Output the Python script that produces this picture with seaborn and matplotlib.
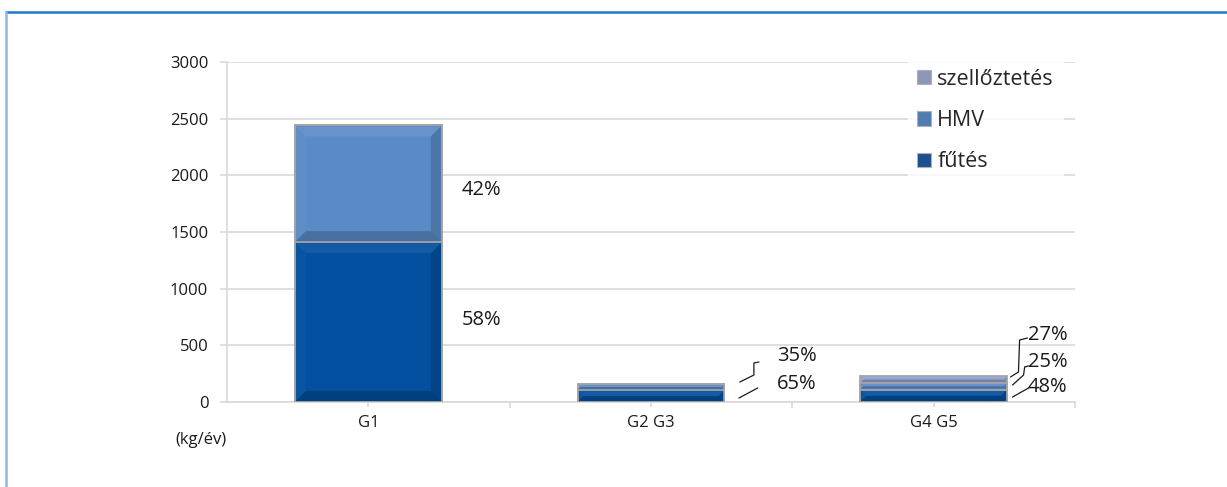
import matplotlib
matplotlib.use("Agg")
import matplotlib.pyplot as plt
import seaborn as sns
import pandas as pd
import numpy as np
from matplotlib.lines import Line2D
from matplotlib.patches import Patch, Polygon

categories = ["G1", "G2 G3", "G4 G5"]
futes = [1410, 104, 110]
hmv = [1030, 56, 57]
szellozes = [0, 0, 62]
series_names = ["fűtés", "HMV", "szellőztetés"]
colors = ["#02509f", "#5a8bc6", "#8fa3d4"]
legend_colors = ["#1c4f8e", "#4f7dae", "#8c97ba"]
yticks = [0, 500, 1000, 1500, 2000, 2500, 3000]
unit_label = "(kg/év)"

sns.set_theme(style="white")
plt.rcParams["font.family"] = ["Open Sans", "DejaVu Sans"]

df = pd.DataFrame({"cat": categories, "futes": futes, "hmv": hmv, "szell": szellozes})
df["c1"] = df["futes"]
df["c2"] = df["futes"] + df["hmv"]
df["c3"] = df["c2"] + df["szell"]

fig = plt.figure(figsize=(12.27, 4.87), dpi=100)
ax = fig.add_axes([227/1227, 85/487, (1075-227)/1227, 340/487])

BW = 0.52
for col, color in zip(["c3", "c2", "c1"], colors[::-1]):
    sns.barplot(data=df, x="cat", y=col, color=color, width=BW, ax=ax,
                edgecolor="#a6a6a6", linewidth=1.3, saturation=1, zorder=3)

ax.set_ylim(0, 3000)
ax.set_xlim(-0.5, 2.5)

# bevel shading on each visible segment
inv = ax.transData.inverted()
for i in range(len(categories)):
    bounds = [0, df["c1"][i], df["c2"][i], df["c3"][i]]
    for k in range(3):
        lo, hi = bounds[k], bounds[k + 1]
        if hi - lo <= 0:
            continue
        (x0, y0) = ax.transData.transform((i - BW / 2, lo))
        (x1, y1) = ax.transData.transform((i + BW / 2, hi))
        x0 += 1; x1 -= 1; y0 += 1; y1 -= 1
        b = min(10, (y1 - y0) / 2, (x1 - x0) / 2)
        pts = {
            "bottom": [(x0, y0), (x1, y0), (x1 - b, y0 + b), (x0 + b, y0 + b)],
            "right": [(x1, y0), (x1, y1), (x1 - b, y1 - b), (x1 - b, y0 + b)],
            "top": [(x0, y1), (x1, y1), (x1 - b, y1 - b), (x0 + b, y1 - b)],
            "left": [(x0, y0), (x0, y1), (x0 + b, y1 - b), (x0 + b, y0 + b)],
        }
        shade = {"bottom": ("black", 0.2), "right": ("black", 0.15),
                 "top": ("white", 0.07), "left": ("white", 0.03)}
        for side, poly in pts.items():
            dpts = inv.transform(np.array(poly))
            c, a = shade[side]
            ax.add_patch(Polygon(dpts, closed=True, facecolor=c, alpha=a,
                                 edgecolor="none", zorder=3.5))

ax.set_yticks(yticks)
ax.set_yticklabels([str(t) for t in yticks], fontsize=12, color="#1a1a1a")
ax.set_xticks(range(len(categories)))
ax.set_xticklabels(categories, fontsize=12, color="#1a1a1a")
ax.set_xlabel("")
ax.set_ylabel("")
ax.yaxis.grid(True, color="#d9d9d9", linewidth=1.2, zorder=0)
ax.set_axisbelow(True)
for s in ["top", "right"]:
    ax.spines[s].set_visible(False)
for s in ["left", "bottom"]:
    ax.spines[s].set_color("#d9d9d9")
    ax.spines[s].set_linewidth(1.2)
ax.tick_params(axis="y", length=5, color="#d9d9d9", width=1.2, pad=8.5, left=True)
ax.tick_params(axis="x", which="major", length=3.5, color="#d9d9d9", width=1.2, pad=6, bottom=True)
ax.set_xticks([0.5, 1.5, 2.5], minor=True)
ax.tick_params(axis="x", which="minor", length=4.5, color="#d9d9d9", width=1.2, bottom=True)

fig.text(201/1227, 1 - 440/487, unit_label, fontsize=12, ha="center", va="center", color="#1a1a1a")

# percent labels
tot = df["c3"].values
pct = lambda v, i: f"{round(100 * v / tot[i])}%"
lab_kw = dict(fontsize=14.5, va="center", ha="left", color="#1a1a1a")
ax.text(0.33, 1870, pct(hmv[0], 0), **lab_kw)
ax.text(0.33, 725, pct(futes[0], 0), **lab_kw)
ax.text(1.446, 410, pct(hmv[1], 1), **lab_kw)
ax.text(1.446, 159, pct(futes[1], 1), **lab_kw)
ax.text(2.333, 591, pct(szellozes[2], 2), **lab_kw)
ax.text(2.333, 353, pct(hmv[2], 2), **lab_kw)
ax.text(2.333, 132, pct(futes[2], 2), **lab_kw)

line_kw = dict(color="#1a1a1a", linewidth=0.9, zorder=4)
ax.plot([1.314, 1.364, 1.364, 1.382], [176, 238, 344, 353], **line_kw)
ax.plot([1.311, 1.378], [35, 124], **line_kw)
ax.plot([2.272, 2.300, 2.304, 2.332], [221, 265, 547, 565], **line_kw)
ax.plot([2.279, 2.318, 2.322, 2.336], [150, 238, 309, 318], **line_kw)
ax.plot([2.279, 2.336], [44, 124], **line_kw)

handles = [Patch(facecolor=c, edgecolor="#b0b0b0", linewidth=0.8) for c in legend_colors[::-1]]
leg = ax.legend(handles, series_names[::-1], loc="upper right", bbox_to_anchor=(0.993, 1.025),
                frameon=True, fontsize=15.5, handlelength=0.65, handleheight=0.65,
                handletextpad=0.3, labelspacing=0.95, borderaxespad=0.3)
leg.get_frame().set_facecolor("white")
leg.get_frame().set_edgecolor("white")
leg.set_zorder(5)

# outer frame
fig.add_artist(Line2D([6/1227, 1.0], [1 - 12/487, 1 - 12/487], color="#1f7bc8", linewidth=1.8))
fig.add_artist(Line2D([6/1227, 6/1227], [0, 1 - 12/487], color="#8fb8e8", linewidth=1.8))

fig.savefig("out.png", dpi=100)
